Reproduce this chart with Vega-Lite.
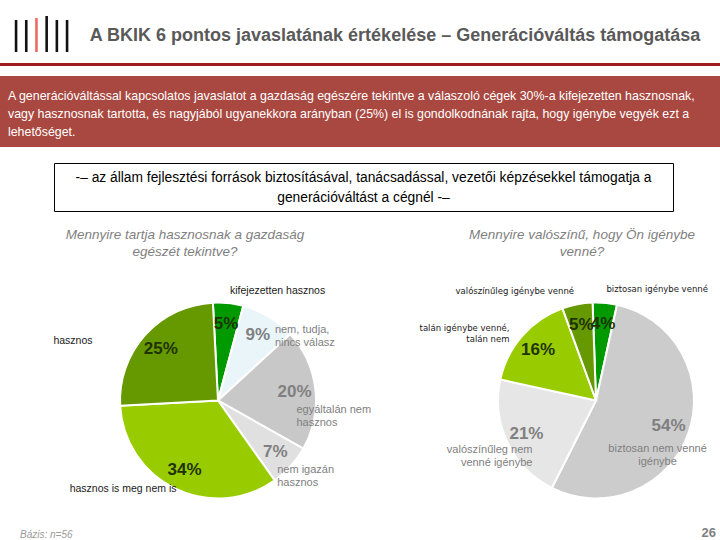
{
  "$schema": "https://vega.github.io/schema/vega-lite/v6.json",
  "padding": 0,
  "background": "white",
  "spacing": 0,
  "config": {
    "view": {"stroke": null},
    "font": "Liberation Sans",
    "concat": {"spacing": 0}
  },
  "resolve": {"scale": {"color": "independent", "theta": "independent"}},
  "vconcat": [
    {
      "spacing": 0,
      "bounds": "flush",
      "hconcat": [
        {
          "width": 70,
          "height": 63,
          "data": {"values": [
            {"bar": 1, "h": 32, "part": "fekete"},
            {"bar": 2, "h": 32, "part": "fekete"},
            {"bar": 3, "h": 34, "part": "piros"},
            {"bar": 4, "h": 36, "part": "fekete"},
            {"bar": 5, "h": 32, "part": "fekete"},
            {"bar": 6, "h": 32, "part": "fekete"}
          ]},
          "mark": {"type": "bar"},
          "encoding": {
            "x": {"field": "bar", "type": "ordinal", "axis": null, "scale": {"paddingInner": 0.745, "paddingOuter": 0.804, "align": 0.9}},
            "y": {"field": "h", "type": "quantitative", "axis": null, "scale": {"domain": [-11, 52], "nice": false, "zero": false}},
            "color": {"field": "part", "type": "nominal", "legend": null, "scale": {"domain": ["fekete", "piros"], "range": ["#111111", "#EE6A62"]}}
          }
        },
        {
          "width": 650,
          "height": 63,
          "data": {"values": [{"t": "A BKIK 6 pontos javaslatának értékelése – Generációváltás támogatása"}]},
          "mark": {"type": "text", "fontSize": 18, "fontWeight": "bold", "color": "#595959", "dy": 4},
          "encoding": {"text": {"field": "t"}}
        }
      ]
    },
    {
      "width": 720,
      "height": 3,
      "data": {"values": [{"elem": "vonal"}]},
      "mark": {"type": "rect", "color": "#A01C22"}
    },
    {"width": 720, "height": 10, "data": {"values": []}, "mark": "point"},
    {
      "width": 720,
      "height": 71,
      "layer": [
        {
          "data": {"values": [{"elem": "doboz"}]},
          "mark": {"type": "rect", "color": "#A84840"}
        },
        {
          "data": {"values": [
            {"k": "a", "line": 1, "t": "A generációváltással kapcsolatos javaslatot a gazdaság egészére tekintve a válaszoló cégek 30%-a kifejezetten hasznosnak,"},
            {"k": "a", "line": 2, "t": "vagy hasznosnak tartotta, és nagyjából ugyanekkora arányban (25%) el is gondolkodnának rajta, hogy igénybe vegyék ezt a"},
            {"k": "a", "line": 3, "t": "lehetőséget."}
          ]},
          "mark": {"type": "text", "align": "left", "color": "white", "fontSize": 12.4, "dy": 2.5},
          "encoding": {
            "x": {"field": "k", "type": "nominal", "axis": null, "bandPosition": 0, "scale": {"type": "band", "paddingInner": 0, "paddingOuter": 0.0113}},
            "y": {"field": "line", "type": "ordinal", "axis": null, "scale": {"padding": 1.03}},
            "text": {"field": "t"}
          }
        }
      ]
    },
    {"width": 720, "height": 15, "data": {"values": []}, "mark": "point"},
    {
      "spacing": 0,
      "hconcat": [
        {"width": 53, "height": 48, "data": {"values": []}, "mark": "point"},
        {
          "width": 619,
          "height": 48,
          "view": {"stroke": "#000000", "strokeWidth": 1},
          "data": {"values": [
            {"line": 1, "t": "-– az állam fejlesztési források biztosításával, tanácsadással, vezetői képzésekkel támogatja a"},
            {"line": 2, "t": "generációváltást a cégnél -–"}
          ]},
          "mark": {"type": "text", "fontSize": 13.8, "color": "#000000", "dy": 1},
          "encoding": {
            "y": {"field": "line", "type": "ordinal", "axis": null, "scale": {"padding": 0.7}},
            "text": {"field": "t"}
          }
        }
      ]
    },
    {"width": 720, "height": 15, "data": {"values": []}, "mark": "point"},
    {
      "spacing": 36,
      "bounds": "flush",
      "resolve": {"scale": {"color": "independent", "theta": "independent"}},
      "hconcat": [
        {
          "width": 436,
          "height": 237,
          "title": {"text": ["Mennyire tartja hasznosnak a gazdaság", "egészét tekintve?"], "fontSize": 13.5, "fontStyle": "italic", "fontWeight": "normal", "color": "#7F7F7F", "lineHeight": 17, "offset": 24, "dx": -33, "anchor": "middle"},
          "data": {"values": [
            {"o": 1, "cat": "kifejezetten hasznos", "value": 0.05},
            {"o": 2, "cat": "nem, tudja,\nnincs válasz", "value": 0.09},
            {"o": 3, "cat": "egyáltalán nem\nhasznos", "value": 0.20},
            {"o": 4, "cat": "nem igazán\nhasznos", "value": 0.07},
            {"o": 5, "cat": "hasznos is meg nem is", "value": 0.34},
            {"o": 6, "cat": "hasznos", "value": 0.25}
          ]},
          "encoding": {
            "theta": {"field": "value", "type": "quantitative", "stack": true, "scale": {"range": [-0.0524, 6.2308]}},
            "order": {"field": "o", "type": "quantitative"}
          },
          "layer": [
            {
              "mark": {"type": "arc", "outerRadius": 98, "stroke": "white", "strokeWidth": 2},
              "encoding": {
                "color": {"field": "cat", "type": "nominal", "legend": null, "scale": {
                  "domain": ["kifejezetten hasznos", "nem, tudja,\nnincs válasz", "egyáltalán nem\nhasznos", "nem igazán\nhasznos", "hasznos is meg nem is", "hasznos"],
                  "range": ["#009900", "#EAF5FA", "#C8C8C8", "#E0E0E0", "#99CC00", "#669900"]}}
              }
            },
            {
              "mark": {"type": "text", "radius": 77, "fontSize": 17, "fontWeight": "bold"},
              "encoding": {
                "text": {"field": "value", "type": "quantitative", "format": ".0%"},
                "color": {"condition": {"test": "datum.o >= 2 && datum.o <= 4", "value": "#808080"}, "value": "#1F3300"}
              }
            },
            {
              "mark": {"type": "text", "radius": 77, "fontSize": 11, "color": "#808080", "align": "left", "baseline": "middle", "dx": 17, "dy": -5, "lineBreak": "\n"},
              "encoding": {
                "text": {"condition": {"test": "datum.o == 2", "field": "cat"}, "value": ""}
              }
            },
            {
              "mark": {"type": "text", "radius": 77, "fontSize": 11, "color": "#808080", "align": "left", "baseline": "top", "dx": 2, "dy": 12, "lineBreak": "\n"},
              "encoding": {
                "text": {"condition": {"test": "datum.o == 3 || datum.o == 4", "field": "cat"}, "value": ""}
              }
            },
            {
              "mark": {"type": "text", "radius": 115, "fontSize": 10.5, "color": "#1A1A1A", "align": "left", "dy": 5},
              "encoding": {
                "text": {"condition": {"test": "datum.o == 1", "field": "cat"}, "value": ""}
              }
            },
            {
              "mark": {"type": "text", "radius": 100, "fontSize": 10.5, "color": "#1A1A1A", "align": "right", "dx": 2, "dy": -2},
              "encoding": {
                "text": {"condition": {"test": "datum.o == 5", "field": "cat"}, "value": ""}
              }
            },
            {
              "mark": {"type": "text", "radius": 115, "fontSize": 10.5, "color": "#1A1A1A", "align": "right", "dx": -40, "dy": 17},
              "encoding": {
                "text": {"condition": {"test": "datum.o == 6", "field": "cat"}, "value": ""}
              }
            }
          ]
        },
        {
          "width": 248,
          "height": 237,
          "title": {"text": ["Mennyire valószínű, hogy Ön igénybe", "venné?"], "fontSize": 13.5, "fontStyle": "italic", "fontWeight": "normal", "color": "#7F7F7F", "lineHeight": 17, "offset": 24, "dx": -14, "anchor": "middle"},
          "data": {"values": [
            {"o": 1, "cat": "biztosan igénybe venné", "value": 0.04},
            {"o": 2, "cat": "biztosan nem venné\nigénybe", "value": 0.54},
            {"o": 3, "cat": "valószínűleg nem\nvenné igénybe", "value": 0.21},
            {"o": 4, "cat": "talán igénybe venné,\ntalán nem", "value": 0.16},
            {"o": 5, "cat": "valószínűleg igénybe venné", "value": 0.05}
          ]},
          "encoding": {
            "theta": {"field": "value", "type": "quantitative", "stack": true, "scale": {"range": [-0.035, 6.2482]}},
            "order": {"field": "o", "type": "quantitative"}
          },
          "layer": [
            {
              "mark": {"type": "arc", "outerRadius": 98, "stroke": "white", "strokeWidth": 2},
              "encoding": {
                "color": {"field": "cat", "type": "nominal", "legend": null, "scale": {
                  "domain": ["biztosan igénybe venné", "biztosan nem venné\nigénybe", "valószínűleg nem\nvenné igénybe", "talán igénybe venné,\ntalán nem", "valószínűleg igénybe venné"],
                  "range": ["#009900", "#CCCCCC", "#E6E6E6", "#99CC00", "#669900"]}}
              }
            },
            {
              "mark": {"type": "text", "radius": 77, "fontSize": 17, "fontWeight": "bold"},
              "encoding": {
                "text": {"field": "value", "type": "quantitative", "format": ".0%"},
                "color": {"condition": {"test": "datum.o >= 2 && datum.o <= 3", "value": "#808080"}, "value": "#1F3300"}
              }
            },
            {
              "mark": {"type": "text", "radius": 77, "fontSize": 11, "color": "#808080", "align": "center", "baseline": "top", "dx": -11, "dy": 17, "lineBreak": "\n"},
              "encoding": {
                "text": {"condition": {"test": "datum.o == 2", "field": "cat"}, "value": ""}
              }
            },
            {
              "mark": {"type": "text", "radius": 77, "fontSize": 11, "color": "#808080", "align": "right", "baseline": "top", "dx": 6, "dy": 10, "lineBreak": "\n"},
              "encoding": {
                "text": {"condition": {"test": "datum.o == 3", "field": "cat"}, "value": ""}
              }
            },
            {
              "mark": {"type": "text", "radius": 115, "fontSize": 8.5, "font": "DejaVu Sans", "color": "#1A1A1A", "align": "left", "dy": 3.5},
              "encoding": {
                "text": {"condition": {"test": "datum.o == 1", "field": "cat"}, "value": ""}
              }
            },
            {
              "mark": {"type": "text", "radius": 115, "fontSize": 8.5, "font": "DejaVu Sans", "color": "#1A1A1A", "align": "right", "dy": 3.5, "lineBreak": "\n"},
              "encoding": {
                "text": {"condition": {"test": "datum.o >= 4", "field": "cat"}, "value": ""}
              }
            }
          ]
        }
      ]
    },
    {
      "spacing": 0,
      "hconcat": [
        {"width": 360, "height": 1, "data": {"values": []}, "mark": "point",
         "title": {"text": "Bázis: n=56", "anchor": "start", "dx": 20, "fontSize": 10, "fontStyle": "italic", "fontWeight": "normal", "color": "#999999", "offset": 0}},
        {"width": 360, "height": 1, "data": {"values": []}, "mark": "point",
         "title": {"text": "26", "anchor": "end", "dx": -4, "fontSize": 13, "fontWeight": "bold", "color": "#7F7F7F", "offset": 0}}
      ]
    }
  ]
}
